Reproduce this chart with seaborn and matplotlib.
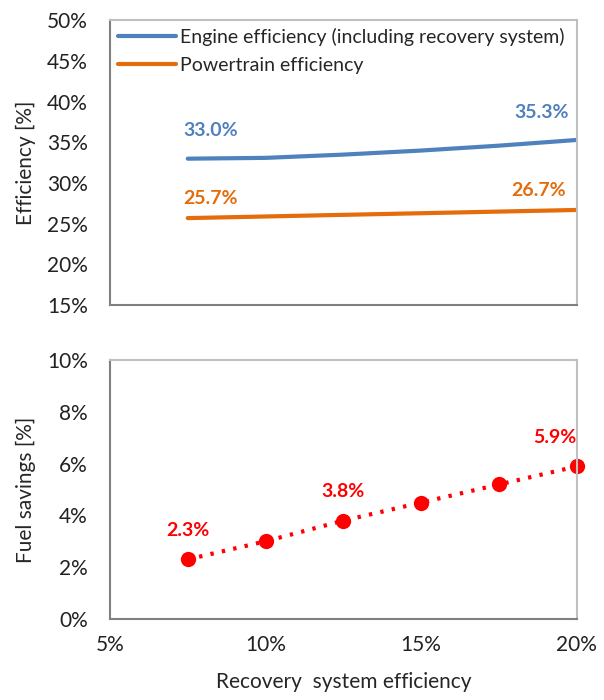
import matplotlib
matplotlib.use("Agg")
import matplotlib.pyplot as plt
import matplotlib.ticker as mtick
import seaborn as sns
import pandas as pd

# recovery system efficiency [%]
recovery_eff = [7.5, 10, 12.5, 15, 17.5, 20]
engine_eff = [33.0, 33.1, 33.5, 34.0, 34.6, 35.3]
powertrain_eff = [25.7, 25.9, 26.1, 26.3, 26.5, 26.7]
fuel_savings = [2.3, 3.0, 3.8, 4.5, 5.2, 5.9]

engine_labels = {0: "33.0%", 5: "35.3%"}
powertrain_labels = {0: "25.7%", 5: "26.7%"}
savings_labels = {0: "2.3%", 2: "3.8%", 5: "5.9%"}

sns.set_theme(style="white")
plt.rcParams["font.family"] = ["Lato", "DejaVu Sans"]

BLUE = "#4f81bd"
ORANGE = "#e46c0a"
RED = "#ff0000"

df = pd.DataFrame({"rec": recovery_eff, "engine": engine_eff,
                   "powertrain": powertrain_eff, "fuel": fuel_savings})

fig = plt.figure(figsize=(6.04, 7.0), dpi=100)
ax1 = fig.add_axes([0.182, 0.564, 0.773, 0.407])
ax2 = fig.add_axes([0.182, 0.116, 0.773, 0.369])


def excel_frame(ax):
    for side in ["top", "right"]:
        ax.spines[side].set_color("#c0c0c0")
        ax.spines[side].set_linewidth(1.5)
    for side in ["left", "bottom"]:
        ax.spines[side].set_color("#808080")
        ax.spines[side].set_linewidth(1.5)
    ax.tick_params(length=0, labelsize=15, colors="#222222")
    ax.tick_params(axis="y", pad=16)


# top panel
sns.lineplot(data=df, x="rec", y="engine", ax=ax1, color=BLUE, lw=3,
             label="Engine efficiency (including recovery system)")
sns.lineplot(data=df, x="rec", y="powertrain", ax=ax1, color=ORANGE, lw=3,
             label="Powertrain efficiency")
ax1.set_xlim(5, 20)
ax1.set_ylim(15, 50)
ax1.set_yticks(range(15, 51, 5))
ax1.yaxis.set_major_formatter(mtick.FuncFormatter(lambda v, p: f"{v:.0f}%"))
ax1.set_xticklabels([])
ax1.set_xlabel("")
ax1.set_ylabel("Efficiency [%]", fontsize=15, labelpad=8)
ax1.legend(loc="upper left", frameon=False, fontsize=14, handlelength=3.0,
           handletextpad=0.2, borderaxespad=0.1, labelspacing=0.55,
           borderpad=0.3)
for i, txt in engine_labels.items():
    ax1.annotate(txt, (recovery_eff[i], engine_eff[i]), xytext=(-3 if i == 0 else -6, 16),
                 textcoords="offset points", ha="left" if i == 0 else "right",
                 color=BLUE, fontsize=14, fontweight="bold")
for i, txt in powertrain_labels.items():
    ax1.annotate(txt, (recovery_eff[i], powertrain_eff[i]), xytext=(-3 if i == 0 else -8, 10),
                 textcoords="offset points", ha="left" if i == 0 else "right",
                 color=ORANGE, fontsize=14, fontweight="bold")
excel_frame(ax1)

# bottom panel
sns.lineplot(data=df, x="rec", y="fuel", ax=ax2, color=RED, lw=3,
             linestyle=(0, (0.8, 2.0)), marker="o", markersize=11,
             markeredgewidth=0, clip_on=False)
ax2.set_xlim(5, 20)
ax2.set_ylim(0, 10)
ax2.set_xticks([5, 10, 15, 20])
ax2.set_yticks(range(0, 11, 2))
ax2.xaxis.set_major_formatter(mtick.FuncFormatter(lambda v, p: f"{v:.0f}%"))
ax2.yaxis.set_major_formatter(mtick.FuncFormatter(lambda v, p: f"{v:.0f}%"))
ax2.set_ylabel("Fuel savings [%]", fontsize=15, labelpad=8)
ax2.set_xlabel("Recovery  system efficiency", fontsize=15, labelpad=12)
for i, txt in savings_labels.items():
    ax2.annotate(txt, (recovery_eff[i], fuel_savings[i]), xytext=(0, 17),
                 textcoords="offset points", ha="center" if i < 5 else "right",
                 color=RED, fontsize=14, fontweight="bold")
excel_frame(ax2)
ax2.tick_params(axis="x", pad=12)

fig.savefig("out.png", dpi=100)
